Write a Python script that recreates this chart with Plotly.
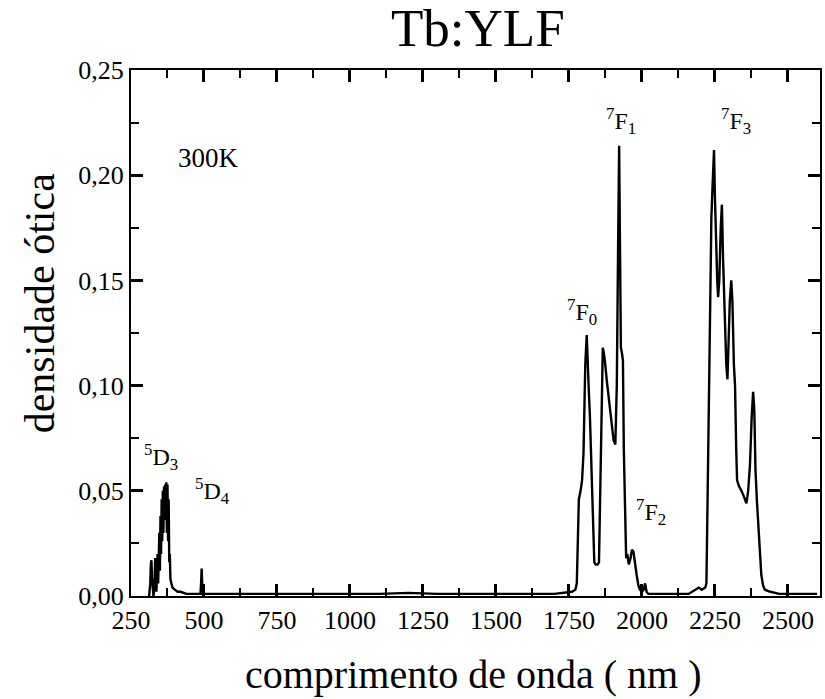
import plotly.graph_objects as go

# wavelength (nm) and optical density
wavelength = [
    312, 316, 318, 320, 322, 324, 327, 330, 333, 335, 337, 339, 341, 343, 345, 347,
    349, 351, 353, 355, 357, 359, 361, 363, 365, 367, 369, 371, 373, 375, 377, 379,
    381, 383, 385, 388, 392, 400, 410, 420, 440,
    480, 488, 490, 492, 494, 496, 500,
    600, 700, 800, 900, 1000, 1100, 1200, 1300, 1400, 1500, 1600, 1700, 1760,
    1772, 1777, 1780, 1784, 1790, 1795, 1800, 1806, 1811, 1815, 1818, 1822, 1827, 1832,
    1837, 1842, 1848, 1853, 1857, 1861, 1866, 1869, 1873, 1880, 1888, 1896, 1903, 1909,
    1914, 1918, 1922, 1925, 1928, 1931, 1935, 1938, 1942, 1946, 1950, 1955, 1961,
    1966, 1971, 1976, 1982, 1988, 1993, 2000, 2006, 2011, 2016, 2022, 2040,
    2080, 2120, 2160, 2183, 2195, 2205, 2217, 2221,
    2224, 2227, 2230, 2233, 2238, 2242, 2247, 2250, 2254, 2258, 2261, 2265, 2270, 2274,
    2278, 2284, 2289, 2293, 2297, 2301, 2306, 2310, 2315, 2319, 2323, 2326, 2333, 2341,
    2350, 2358, 2364, 2370, 2376, 2381, 2385, 2389, 2394, 2398, 2404, 2409, 2415, 2421,
    2440, 2470, 2500, 2550, 2600,
]
optical_density = [
    0.000, 0.006, 0.015, 0.017, 0.008, 0.002, 0.000, 0.004, 0.018, 0.008, 0.002, 0.010,
    0.020, 0.006, 0.016, 0.030, 0.012, 0.038, 0.020, 0.046, 0.026, 0.050, 0.030, 0.052,
    0.036, 0.053, 0.040, 0.054, 0.030, 0.053, 0.026, 0.046, 0.016, 0.020, 0.008, 0.006,
    0.004, 0.003, 0.002, 0.002, 0.001,
    0.001, 0.001, 0.006, 0.013, 0.005, 0.001, 0.001,
    0.001, 0.001, 0.001, 0.001, 0.001, 0.001, 0.0015, 0.001, 0.001, 0.001, 0.001, 0.001, 0.002,
    0.003, 0.006, 0.030, 0.046, 0.050, 0.055, 0.068, 0.110, 0.124, 0.104, 0.098, 0.085,
    0.060, 0.030, 0.016, 0.015, 0.015, 0.016, 0.050, 0.095, 0.118, 0.116, 0.112, 0.102,
    0.092, 0.082, 0.074, 0.072, 0.100, 0.160, 0.214, 0.165, 0.118, 0.116, 0.112, 0.070,
    0.035, 0.018, 0.020, 0.015, 0.018, 0.022, 0.021, 0.015, 0.010, 0.005, 0.003, 0.002,
    0.003, 0.006, 0.002, 0.001, 0.001,
    0.001, 0.001, 0.001, 0.003, 0.004, 0.003, 0.004, 0.006,
    0.040, 0.066, 0.110, 0.140, 0.180, 0.195, 0.212, 0.190, 0.165, 0.150, 0.142, 0.150,
    0.175, 0.186, 0.160, 0.125, 0.110, 0.103, 0.120, 0.140, 0.150, 0.140, 0.110, 0.100,
    0.070, 0.055, 0.052, 0.050, 0.047, 0.044, 0.050, 0.062, 0.085, 0.097, 0.088, 0.060,
    0.045, 0.035, 0.020, 0.010, 0.005, 0.003,
    0.002, 0.001, 0.001, 0.001, 0.001,
]

# axis tick spacing (major / minor)
x_tick_start, x_tick_step, x_minor_step = 250, 250, 125
y_tick_step, y_minor_step = 0.05, 0.025

labels_text = ["300K", "<sup>5</sup>D<sub>3</sub>", "<sup>5</sup>D<sub>4</sub>",
               "<sup>7</sup>F<sub>0</sub>", "<sup>7</sup>F<sub>1</sub>",
               "<sup>7</sup>F<sub>2</sub>", "<sup>7</sup>F<sub>3</sub>"]
labels_x = [517, 352, 530, 1796, 1930, 2030, 2322]
labels_y = [0.208, 0.066, 0.050, 0.135, 0.226, 0.040, 0.226]
labels_size = [27, 24, 24, 24, 24, 24, 24]

FONT = "Liberation Serif, Times New Roman, serif"

fig = go.Figure()
fig.add_trace(go.Scatter(
    x=wavelength, y=optical_density, mode="lines",
    line=dict(color="black", width=2.4), showlegend=False,
))

for t, lx, ly, sz in zip(labels_text, labels_x, labels_y, labels_size):
    fig.add_annotation(x=lx, y=ly, text=t, showarrow=False,
                       font=dict(family=FONT, size=sz, color="black"))

# title and axis titles
fig.add_annotation(xref="paper", yref="paper", x=0.504, y=1.079, text="Tb:YLF",
                   showarrow=False, font=dict(family=FONT, size=53, color="black"),
                   xanchor="center", yanchor="middle")
fig.add_annotation(xref="paper", yref="paper", x=0.497, y=-0.150,
                   text="comprimento de onda ( nm )", showarrow=False,
                   font=dict(family=FONT, size=40, color="black"),
                   xanchor="center", yanchor="middle")
fig.add_annotation(xref="paper", yref="paper", x=-0.1317, y=0.557,
                   text="densidade ótica", showarrow=False, textangle=-90,
                   font=dict(family=FONT, size=42, color="black"),
                   xanchor="center", yanchor="middle")

# x axis: no showgrid/zeroline settings, tickfont with family
fig.update_xaxes(range=[250, 2610], tickmode="linear", tick0=x_tick_start, dtick=x_tick_step,
                 showline=True, linecolor="black", linewidth=2, mirror="allticks",
                 ticks="inside", ticklen=12, tickwidth=2.5, tickcolor="black",
                 tickfont=dict(family=FONT, size=26, color="black"),
                 minor=dict(ticks="inside", ticklen=8, tickwidth=2, dtick=x_minor_step,
                            tickcolor="black"))
# y axis: showgrid/zeroline off, tickfont without family
fig.update_yaxes(range=[0, 0.25], tickmode="linear", tick0=0, dtick=y_tick_step,
                 tickformat=".2f", showgrid=False, zeroline=False,
                 showline=True, linecolor="black", linewidth=2, mirror="allticks",
                 ticks="inside", ticklen=12, tickwidth=2.5, tickcolor="black",
                 tickfont=dict(size=26, color="black"),
                 minor=dict(ticks="inside", ticklen=8, tickwidth=2, dtick=y_minor_step,
                            tickcolor="black"))

fig.update_layout(
    width=825, height=699,
    margin=dict(l=131, r=3, t=70, b=103),
    paper_bgcolor="white", plot_bgcolor="white",
    separators=",.",
    font=dict(family=FONT, color="black"),
)

fig.write_html("out.html")
